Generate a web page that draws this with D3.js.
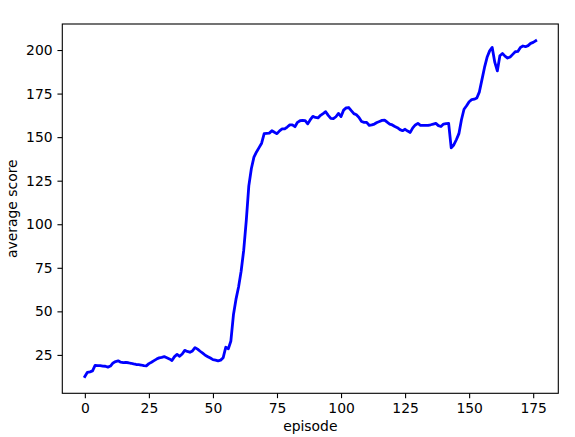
<!DOCTYPE html>
<html>
<head>
<meta charset="utf-8">
<script src="https://cdn.jsdelivr.net/npm/d3@7"></script>
<style>
  html, body { margin: 0; padding: 0; background: #fff; }
  svg { display: block; }
  text { font-family: "DejaVu Sans", sans-serif; }
</style>
</head>
<body>
<div id="chart"></div>
<script>
// ---- data ----
const episodes = d3.range(0, 177);
const scores = [
  12.6, 15.0, 15.3, 15.8, 19.0, 18.8, 18.9, 18.6, 18.5, 18.0,
  18.6, 20.4, 21.2, 21.6, 20.8, 20.6, 20.7, 20.5, 20.2, 19.8,
  19.5, 19.4, 19.2, 18.8, 18.7, 20.0, 20.8, 21.7, 22.6, 23.3,
  23.6, 24.0, 23.4, 22.7, 21.8, 24.0, 25.3, 24.2, 25.5, 27.6,
  27.0, 26.5, 27.3, 29.2, 28.3, 27.1, 26.0, 24.8, 24.0, 23.2,
  22.3, 22.0, 21.6, 22.0, 23.4, 29.4, 28.5, 33.0, 48.0, 57.0,
  64.0, 73.0, 85.0, 102.0, 122.0, 132.0, 138.5, 141.5, 144.0, 146.5,
  152.0, 152.2, 152.3, 153.7, 152.8, 152.0, 153.6, 154.7, 154.7, 155.8,
  157.0, 157.0, 156.0, 158.5, 159.4, 159.6, 159.5, 157.6, 160.0, 161.9,
  161.3, 161.0, 162.5, 163.5, 164.6, 162.5, 160.8, 160.6, 161.7, 163.6,
  161.8, 165.5, 166.8, 167.0, 165.2, 163.5, 162.8, 161.3, 159.0, 158.5,
  158.5, 156.7, 157.0, 157.5, 158.4, 159.0, 159.6, 159.8, 158.6, 157.5,
  157.0, 156.1, 155.4, 154.3, 153.7, 154.5, 153.5, 152.7, 155.3, 157.0,
  157.9, 156.8, 156.7, 156.7, 156.8, 157.1, 157.5, 157.9, 156.6, 156.1,
  157.5, 157.8, 157.9, 143.8, 145.5, 148.5, 152.0, 160.0, 166.0, 168.0,
  170.3, 171.5, 171.8, 172.5, 176.0, 183.0, 190.0, 195.8, 199.5, 201.5,
  193.0, 188.0, 196.7, 198.0, 196.5, 195.4, 196.0, 197.5, 199.0, 199.2,
  201.5, 202.3, 201.9, 202.5, 203.8, 204.4, 205.3
];
const xTicks = [0, 25, 50, 75, 100, 125, 150, 175];
const yTicks = [25, 50, 75, 100, 125, 150, 175, 200];
const xLabel = "episode";
const yLabel = "average score";

// ---- layout ----
const W = 575, H = 437;
const L = 62.3, R = 558.3, T = 24, B = 393.3;
const fontPx = 13.9;
const tickLen = 4.86, tickPad = 4.86;

const svg = d3.select("#chart").append("svg")
  .attr("width", W).attr("height", H);

function padded(lo, hi) { const m = (hi - lo) * 0.05; return [lo - m, hi + m]; }
const xExt = d3.extent(episodes), yExt = d3.extent(scores);

const x = d3.scaleLinear().domain(padded(xExt[0], xExt[1])).range([L, R]);
const y = d3.scaleLinear().domain(padded(yExt[0], yExt[1])).range([B, T]);

// line
const line = d3.line().x((d, i) => x(episodes[i])).y(d => y(d));
svg.append("path")
  .datum(scores)
  .attr("d", line)
  .attr("fill", "none")
  .attr("stroke", "#0000ff")
  .attr("stroke-width", 2.8)
  .attr("stroke-linejoin", "round")
  .attr("stroke-linecap", "square");

// axes
const xAxis = d3.axisBottom(x).tickValues(xTicks).tickFormat(d3.format("d"))
  .tickSize(tickLen).tickPadding(tickPad).tickSizeOuter(0);
const yAxis = d3.axisLeft(y).tickValues(yTicks).tickFormat(d3.format("d"))
  .tickSize(tickLen).tickPadding(tickPad).tickSizeOuter(0);

const gx = svg.append("g").attr("transform", `translate(0,${B})`).call(xAxis);
const gy = svg.append("g").attr("transform", `translate(${L},0)`).call(yAxis);
[gx, gy].forEach(g => {
  g.select(".domain").remove();
  g.selectAll(".tick line").attr("stroke", "#000").attr("stroke-width", 1.1);
  g.selectAll(".tick text").attr("fill", "#000")
    .style("font-family", '"DejaVu Sans", sans-serif')
    .style("font-size", fontPx + "px");
});

// spines
svg.append("rect")
  .attr("x", L).attr("y", T).attr("width", R - L).attr("height", B - T)
  .attr("fill", "none").attr("stroke", "#000").attr("stroke-width", 1.1);

// axis labels
svg.append("text")
  .attr("x", (L + R) / 2).attr("y", 431)
  .attr("text-anchor", "middle")
  .style("font-size", fontPx + "px")
  .attr("fill", "#000")
  .text(xLabel);

svg.append("text")
  .attr("transform", `translate(16.5,${(T + B) / 2}) rotate(-90)`)
  .attr("text-anchor", "middle")
  .style("font-size", fontPx + "px")
  .attr("fill", "#000")
  .text(yLabel);
</script>
</body>
</html>
